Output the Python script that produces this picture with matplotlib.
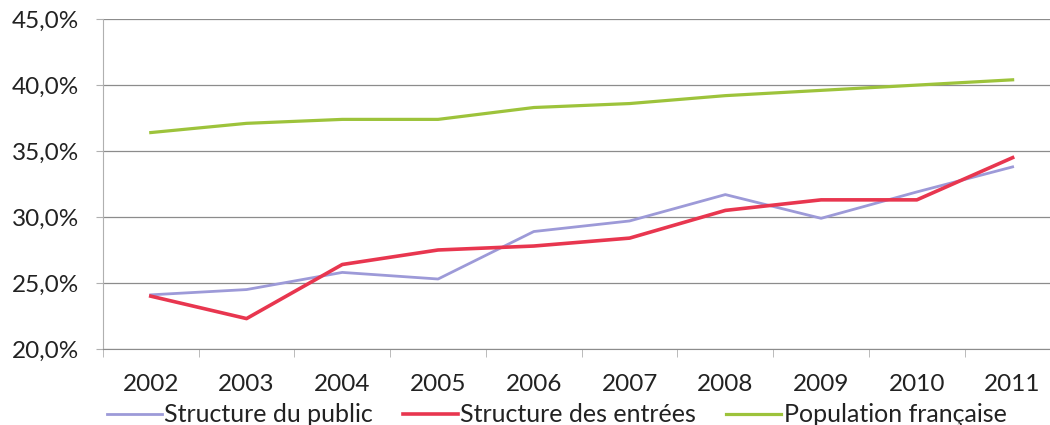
import matplotlib
matplotlib.use("Agg")
import matplotlib.pyplot as plt
from matplotlib.ticker import FuncFormatter

# Données (en %)
annees = ["2002", "2003", "2004", "2005", "2006", "2007", "2008", "2009", "2010", "2011"]
structure_public = [24.1, 24.5, 25.8, 25.3, 28.9, 29.7, 31.7, 29.9, 31.9, 33.8]
structure_entrees = [24.0, 22.3, 26.4, 27.5, 27.8, 28.4, 30.5, 31.3, 31.3, 34.5]
population_fr = [36.4, 37.1, 37.4, 37.4, 38.3, 38.6, 39.2, 39.6, 40.0, 40.4]

plt.rcParams['font.family'] = ['Lato', 'DejaVu Sans']

fig = plt.figure(figsize=(10.5, 4.25), dpi=100)
ax = fig.add_axes([0.098, 0.179, 0.912, 0.776])

x = list(range(len(annees)))
ax.plot(x, structure_public, color='#9d9ad8', lw=2.0, label="Structure du public")
ax.plot(x, structure_entrees, color='#e8364f', lw=2.6, label="Structure des entrées")
ax.plot(x, population_fr, color='#9dc33b', lw=2.3, label="Population française")

ax.set_ylim(20, 45)
ax.set_yticks([20, 25, 30, 35, 40, 45])
ax.yaxis.set_major_formatter(FuncFormatter(lambda v, p: f"{v:.1f}%".replace(".", ",")))
ax.set_xlim(-0.5, len(annees) - 0.5)
ax.set_xticks(x)
ax.set_xticklabels(annees)
ax.set_xticks([i - 0.5 for i in range(len(annees) + 1)], minor=True)

ax.grid(axis='y', color='#8c8c8c', lw=0.9)
ax.set_axisbelow(True)
for s in ['top', 'right']:
    ax.spines[s].set_visible(False)
ax.spines['left'].set_color('#b0b0b0')
ax.spines['bottom'].set_color('#8c8c8c')

ax.tick_params(axis='y', labelsize=17.5, length=5, color='#b0b0b0', pad=12, colors='#222222')
ax.tick_params(axis='x', which='major', length=0, labelsize=17.5, pad=18, colors='#222222')
ax.tick_params(axis='x', which='minor', length=6, color='#b0b0b0')

fig.legend(loc='center', bbox_to_anchor=(0.53, 0.024), ncol=3, frameon=False,
           fontsize=18, handlelength=2.2, handletextpad=0.1, columnspacing=1.2,
           borderaxespad=0, labelcolor='#222222')

fig.savefig("out.png", dpi=100)
